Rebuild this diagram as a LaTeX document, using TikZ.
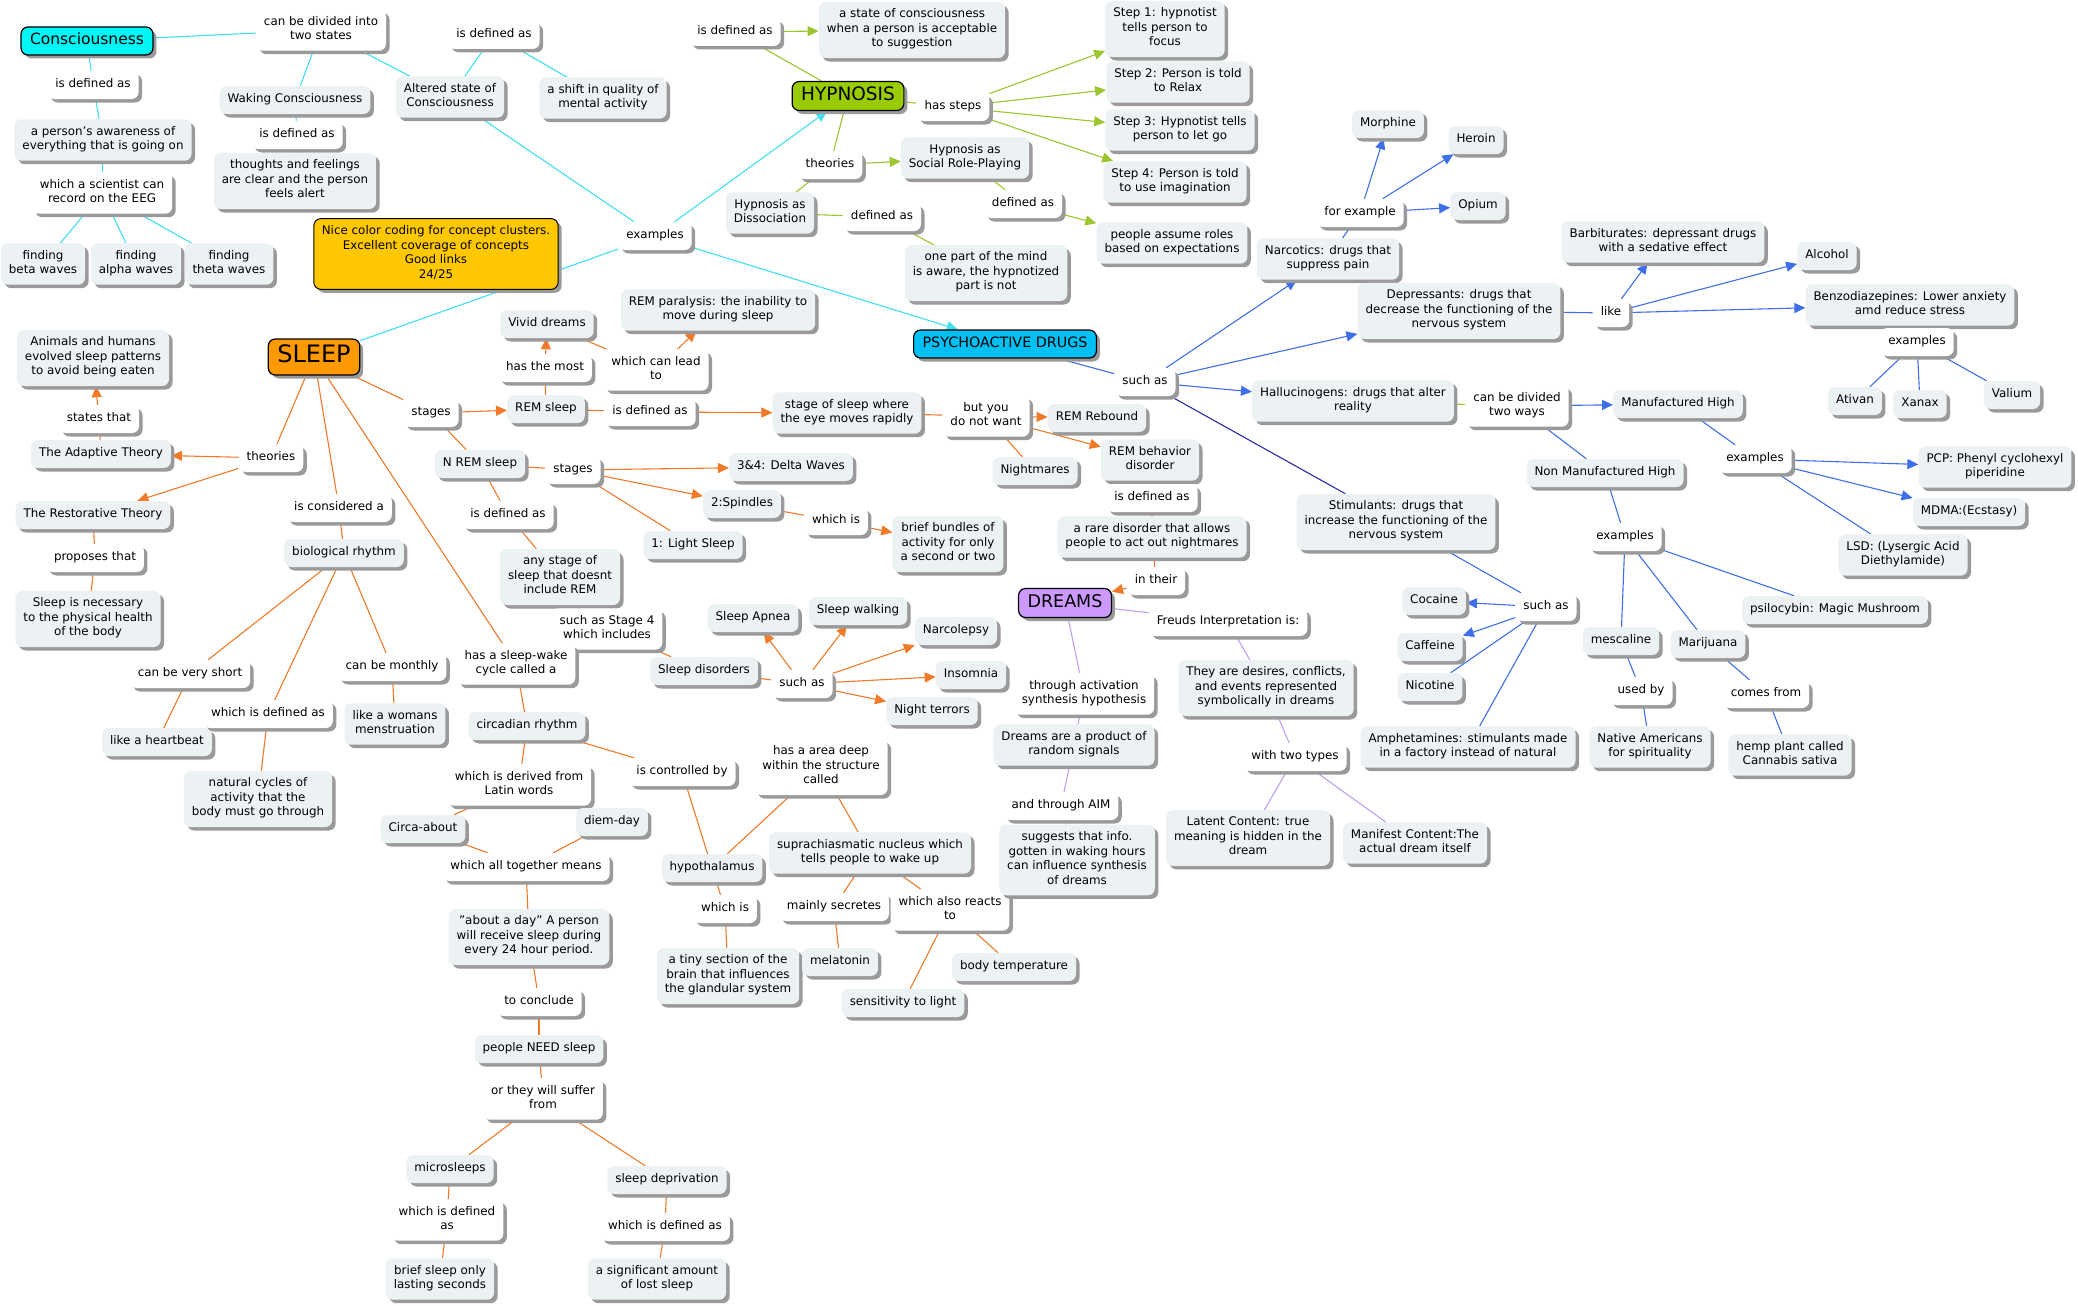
\documentclass[tikz,border=0pt]{standalone}
\usepackage{fontspec}
\setmainfont{DejaVu Sans}
\usetikzlibrary{arrows.meta,shadows}
\definecolor{cptfill}{HTML}{ECF2F4}
\definecolor{shadowc}{HTML}{9A9A9A}
\definecolor{consc}{HTML}{00F5F5}
\definecolor{hypc}{HTML}{99CC00}
\definecolor{sleepc}{HTML}{FF9900}
\definecolor{drugc}{HTML}{00BFF3}
\definecolor{dreamc}{HTML}{CC99FF}
\definecolor{notec}{HTML}{FFC800}
\definecolor{lcyan}{HTML}{40E0F0}
\definecolor{lgreen}{HTML}{9CC530}
\definecolor{lorange}{HTML}{F07A28}
\definecolor{lblue}{HTML}{3F6FE8}
\definecolor{ldblue}{HTML}{2B2BA8}
\definecolor{lpurple}{HTML}{BFA0EE}
\newcommand\fsN{\fontsize{11.9}{14.6}\selectfont}
\newcommand\fsC{\fontsize{15.5}{18}\selectfont}
\newcommand\fsH{\fontsize{18.5}{22}\selectfont}
\newcommand\fsS{\fontsize{24}{28}\selectfont}
\newcommand\fsP{\fontsize{14.3}{17}\selectfont}
\newcommand\fsD{\fontsize{17.5}{21}\selectfont}
\newcommand\sq{\symbol{"27}}
\newcommand\dq{\symbol{"22}}
\pgfdeclarelayer{back}
\pgfdeclarelayer{bg}
\pgfsetlayers{back,bg,main}
\tikzset{
  base/.style={rounded corners=7pt, align=center, font=\fsN, inner xsep=8pt, inner ysep=6.7pt,
    execute at begin node=\strut, execute at end node=\strut,
    drop shadow={shadow xshift=3.5pt,shadow yshift=-3.5pt,fill=shadowc,opacity=1}},
  cpt/.style={base, fill=cptfill},
  lnk/.style={base, fill=white},
  mainc/.style={base, draw=black, line width=1.2pt, inner xsep=9pt},
  notebox/.style={base, draw=black, line width=1pt, fill=notec},
  tipA/.style={-{Triangle[length=11pt,width=10pt]}},
  cy/.style={color=lcyan, draw, line width=1.1pt},
  gr/.style={color=lgreen, draw, line width=1.1pt},
  orl/.style={color=lorange, draw, line width=1.1pt},
  bl/.style={color=lblue, draw, line width=1.1pt},
  pu/.style={color=lpurple, draw, line width=1.1pt},
}
\begin{document}
\begin{tikzpicture}[x=1pt,y=-1pt]
\useasboundingbox (0,0) rectangle (2078,1306);
\begin{pgfonlayer}{back}
\fill[white] (0,0) rectangle (2078,1306);
\end{pgfonlayer}
% ---------- Consciousness
\node[mainc, fill=consc, font=\fsC, inner ysep=5pt] (cons) at (87,41) {Consciousness};
\node[lnk] (cdiv) at (321,30) {can be divided into\\two states};
\node[lnk] (cdef) at (93,85) {is defined as};
\node[cpt] (aware) at (103,140) {a person\sq s awareness of\\everything that is going on};
\node[lnk] (eeg) at (102,193) {which a scientist can\\record on the EEG};
\node[cpt] (beta) at (43,264) {finding\\beta waves};
\node[cpt] (alpha) at (136,264) {finding\\alpha waves};
\node[cpt] (theta) at (229,264) {finding\\theta waves};
\node[cpt] (waking) at (295,100) {Waking Consciousness};
\node[lnk] (wdef) at (297,135) {is defined as};
\node[cpt] (thoughts) at (295,181) {thoughts and feelings\\are clear and the person\\feels alert};
\node[cpt] (altered) at (450,97) {Altered state of\\Consciousness};
\node[lnk] (adef) at (494,35) {is defined as};
\node[cpt] (shift) at (603,98) {a shift in quality of\\mental activity};
\node[lnk] (ex) at (655,236) {examples};
\node[notebox] (note) at (436,254) {Nice color coding for concept clusters.\\Excellent coverage of concepts\\Good links\\24/25};
% ---------- Hypnosis
\node[mainc, fill=hypc, font=\fsH, inner ysep=3.5pt] (hyp) at (848,96) {HYPNOSIS};
\node[lnk] (hdef) at (735,32) {is defined as};
\node[cpt] (hstate) at (912,30) {a state of consciousness\\when a person is acceptable\\to suggestion};
\node[lnk] (hsteps) at (953,107) {has steps};
\node[cpt] (s1) at (1165,29) {Step 1: hypnotist\\tells person to\\focus};
\node[cpt] (s2) at (1178,82) {Step 2: Person is told\\to Relax};
\node[cpt] (s3) at (1180,130) {Step 3: Hypnotist tells\\person to let go};
\node[cpt] (s4) at (1175,182) {Step 4: Person is told\\to use imagination};
\node[lnk] (htheo) at (830,165) {theories};
\node[cpt] (social) at (965,158) {Hypnosis as\\Social Role-Playing};
\node[cpt] (dissoc) at (770,213) {Hypnosis as\\Dissociation};
\node[lnk] (ddef) at (882,217) {defined as};
\node[cpt] (onepart) at (986,273) {one part of the mind\\is aware, the hypnotized\\part is not};
\node[lnk] (sdef) at (1023,204) {defined as};
\node[cpt] (roles) at (1172,243) {people assume roles\\based on expectations};
% ---------- Sleep
\node[mainc, fill=sleepc, font=\fsS, inner ysep=4pt] (sleep) at (314,357) {SLEEP};
\node[cpt] (animals) at (93,358) {Animals and humans\\evolved sleep patterns\\to avoid being eaten};
\node[lnk] (states) at (99,419) {states that};
\node[cpt] (adaptive) at (101,454) {The Adaptive Theory};
\node[lnk] (stheo) at (271,458) {theories};
\node[cpt] (restor) at (93,515) {The Restorative Theory};
\node[lnk] (proposes) at (95,558) {proposes that};
\node[cpt] (necessary) at (88,619) {Sleep is necessary\\to the physical health\\of the body};
\node[lnk] (consid) at (339,508) {is considered a};
\node[cpt] (bio) at (344,553) {biological rhythm};
\node[lnk] (short) at (190,674) {can be very short};
\node[cpt] (heart) at (157,742) {like a heartbeat};
\node[lnk] (bdef) at (268,714) {which is defined as};
\node[cpt] (natural) at (258,799) {natural cycles of\\activity that the\\body must go through};
\node[lnk] (monthly) at (392,667) {can be monthly};
\node[cpt] (woman) at (395,724) {like a womans\\menstruation};
\node[lnk] (sst) at (431,413) {stages};
\node[cpt] (rem) at (546,409) {REM sleep};
\node[lnk] (hasmost) at (545,368) {has the most};
\node[cpt] (vivid) at (547,324) {Vivid dreams};
\node[lnk] (canlead) at (656,370) {which can lead\\to};
\node[cpt] (paralysis) at (718,310) {REM paralysis: the inability to\\move during sleep};
\node[lnk] (remdef) at (650,412) {is defined as};
\node[cpt] (eyes) at (847,413) {stage of sleep where\\the eye moves rapidly};
\node[lnk] (butyou) at (986,416) {but you\\do not want};
\node[cpt] (rebound) at (1097,418) {REM Rebound};
\node[cpt] (nightm) at (1035,471) {Nightmares};
\node[cpt] (rbd) at (1150,460) {REM behavior\\disorder};
\node[lnk] (rbddef) at (1152,498) {is defined as};
\node[cpt] (rare) at (1152,537) {a rare disorder that allows\\people to act out nightmares};
\node[lnk] (intheir) at (1156,581) {in their};
\node[cpt] (nrem) at (480,464) {N REM sleep};
\node[lnk] (nst) at (573,470) {stages};
\node[cpt] (delta) at (791,467) {3\&4: Delta Waves};
\node[cpt] (spind) at (742,504) {2:Spindles};
\node[lnk] (whichis) at (836,521) {which is};
\node[cpt] (bundles) at (948,544) {brief bundles of\\activity for only\\a second or two};
\node[cpt] (light) at (693,545) {1: Light Sleep};
\node[lnk] (ndef) at (508,515) {is defined as};
\node[cpt] (anystage) at (560,577) {any stage of\\sleep that doesnt\\include REM};
\node[lnk] (stage4) at (607,629) {such as Stage 4\\which includes};
\node[cpt] (disorders) at (704,671) {Sleep disorders};
\node[lnk] (sds) at (802,684) {such as};
\node[cpt] (apnea) at (753,618) {Sleep Apnea};
\node[cpt] (walking) at (858,611) {Sleep walking};
\node[cpt] (narco) at (956,631) {Narcolepsy};
\node[cpt] (insom) at (971,675) {Insomnia};
\node[cpt] (terrors) at (932,711) {Night terrors};
\node[lnk] (sw) at (516,664) {has a sleep-wake\\cycle called a};
\node[cpt] (circ) at (527,726) {circadian rhythm};
\node[lnk] (latin) at (519,785) {which is derived from\\Latin words};
\node[cpt] (circa) at (423,829) {Circa-about};
\node[cpt] (diem) at (612,822) {diem-day};
\node[lnk] (together) at (526,867) {which all together means};
\node[cpt] (aboutday) at (529,937) {\dq about a day\dq{} A person\\will receive sleep during\\every 24 hour period.};
\node[lnk] (conclude) at (539,1002) {to conclude};
\node[cpt] (need) at (539,1049) {people NEED sleep};
\node[lnk] (suffer) at (543,1099) {or they will suffer\\from};
\node[cpt] (micro) at (450,1169) {microsleeps};
\node[lnk] (mdef) at (447,1220) {which is defined\\as};
\node[cpt] (brief) at (440,1279) {brief sleep only\\lasting seconds};
\node[cpt] (depriv) at (667,1180) {sleep deprivation};
\node[lnk] (ddeftwo) at (665,1227) {which is defined as};
\node[cpt] (lost) at (657,1279) {a significant amount\\of lost sleep};
\node[lnk] (controlled) at (682,772) {is controlled by};
\node[cpt] (hypo) at (712,868) {hypothalamus};
\node[lnk] (area) at (821,767) {has a area deep\\within the structure\\called};
\node[cpt] (scn) at (870,853) {suprachiasmatic nucleus which\\tells people to wake up};
\node[lnk] (hwhich) at (725,909) {which is};
\node[cpt] (tiny) at (728,976) {a tiny section of the\\brain that influences\\the glandular system};
\node[lnk] (secretes) at (834,907) {mainly secretes};
\node[cpt] (melat) at (840,962) {melatonin};
\node[lnk] (reacts) at (950,910) {which also reacts\\to};
\node[cpt] (sens) at (903,1003) {sensitivity to light};
\node[cpt] (bodyt) at (1014,967) {body temperature};
% ---------- Dreams
\node[mainc, fill=dreamc, font=\fsD, inner ysep=4pt] (dreams) at (1065,603) {DREAMS};
\node[lnk] (freud) at (1228,622) {Freuds Interpretation is:};
\node[cpt] (desires) at (1266,688) {They are desires, conflicts,\\and events represented\\symbolically in dreams};
\node[lnk] (twotypes) at (1295,757) {with two types};
\node[cpt] (latent) at (1248,838) {Latent Content: true\\meaning is hidden in the\\dream};
\node[cpt] (manifest) at (1415,843) {Manifest Content:The\\actual dream itself};
\node[lnk] (activ) at (1084,694) {through activation\\synthesis hypothesis};
\node[cpt] (product) at (1074,745) {Dreams are a product of\\random signals};
\node[lnk] (aim) at (1061,806) {and through AIM};
\node[cpt] (suggests) at (1077,860) {suggests that info.\\gotten in waking hours\\can influence synthesis\\of dreams};
% ---------- Drugs
\node[mainc, fill=drugc, font=\fsP, inner ysep=5.5pt] (drugs) at (1005,344) {PSYCHOACTIVE DRUGS};
\node[lnk] (dsuch) at (1145,382) {such as};
\node[cpt] (narc) at (1328,259) {Narcotics: drugs that\\suppress pain};
\node[lnk] (forex) at (1360,213) {for example};
\node[cpt] (morph) at (1388,124) {Morphine};
\node[cpt] (heroin) at (1476,140) {Heroin};
\node[cpt] (opium) at (1478,206) {Opium};
\node[cpt] (depr) at (1459,311) {Depressants: drugs that\\decrease the functioning of the\\nervous system};
\node[lnk] (like) at (1611,313) {like};
\node[cpt] (barb) at (1663,242) {Barbiturates: depressant drugs\\with a sedative effect};
\node[cpt] (alcohol) at (1827,256) {Alcohol};
\node[cpt] (benzo) at (1910,305) {Benzodiazepines: Lower anxiety\\amd reduce stress};
\node[lnk] (bex) at (1917,342) {examples};
\node[cpt] (ativan) at (1855,401) {Ativan};
\node[cpt] (xanax) at (1920,404) {Xanax};
\node[cpt] (valium) at (2012,395) {Valium};
\node[cpt] (halluc) at (1353,401) {Hallucinogens: drugs that alter\\reality};
\node[lnk] (twoways) at (1517,406) {can be divided\\two ways};
\node[cpt] (manuf) at (1678,404) {Manufactured High};
\node[lnk] (mex) at (1755,459) {examples};
\node[cpt] (pcp) at (1995,467) {PCP: Phenyl cyclohexyl\\piperidine};
\node[cpt] (mdma) at (1969,512) {MDMA:(Ecstasy)};
\node[cpt] (lsd) at (1903,555) {LSD: (Lysergic Acid\\Diethylamide)};
\node[cpt] (nonman) at (1605,473) {Non Manufactured High};
\node[lnk] (nex) at (1625,537) {examples};
\node[cpt] (psilo) at (1835,610) {psilocybin: Magic Mushroom};
\node[cpt] (mesc) at (1621,641) {mescaline};
\node[cpt] (mari) at (1708,644) {Marijuana};
\node[lnk] (usedby) at (1641,691) {used by};
\node[lnk] (comes) at (1766,694) {comes from};
\node[cpt] (native) at (1650,747) {Native Americans\\for spirituality};
\node[cpt] (hemp) at (1790,755) {hemp plant called\\Cannabis sativa};
\node[cpt] (stim) at (1396,522) {Stimulants: drugs that\\increase the functioning of the\\nervous system};
\node[lnk] (stsuch) at (1546,607) {such as};
\node[cpt] (cocaine) at (1434,601) {Cocaine};
\node[cpt] (caff) at (1430,647) {Caffeine};
\node[cpt] (nicot) at (1430,687) {Nicotine};
\node[cpt] (amph) at (1468,747) {Amphetamines: stimulants made\\in a factory instead of natural};
% ================= connectors
\begin{pgfonlayer}{bg}
% cyan
\path[cy] (cons) edge (cdiv) (cdiv) edge (waking) (cdiv) edge (altered)
  (cons) edge (cdef) (cdef) edge (aware) (aware) edge (eeg)
  (eeg) edge (beta) (eeg) edge (alpha) (eeg) edge (theta)
  (waking) edge (wdef) (wdef) edge (thoughts)
  (altered) edge (adef) (adef) edge (shift)
  (altered) edge (ex) (ex) edge (sleep);
\path[cy,tipA] (ex) edge (hyp) (ex) edge (drugs);
% green
\path[gr] (hyp) edge (hdef) (hyp) edge (hsteps) (hyp) edge (htheo)
  (htheo) edge (dissoc) (dissoc) edge (ddef) (ddef) edge (onepart)
  (social) edge (sdef) (halluc) edge (twoways);
\path[gr,tipA] (hdef) edge (hstate) (hsteps) edge (s1) (hsteps) edge (s2)
  (hsteps) edge (s3) (hsteps) edge (s4) (htheo) edge (social) (sdef) edge (roles);
% orange
\path[orl] (sleep) edge (sst) (sst) edge (nrem) (rem) edge (hasmost)
  (vivid) edge (canlead) (rem) edge (remdef) (eyes) edge (butyou)
  (butyou) edge (nightm) (rbd) edge (rbddef) (rbddef) edge (rare) (rare) edge (intheir)
  (nrem) edge (nst) (nst) edge (light) (spind) edge (whichis)
  (nrem) edge (ndef) (ndef) edge (anystage) (anystage) edge (stage4) (stage4) edge (disorders)
  (disorders) edge (sds)
  (sleep) edge (stheo) (adaptive) edge (states) (restor) edge (proposes) (proposes) edge (necessary)
  (sleep) edge (consid) (consid) edge (bio) (bio) edge (short) (short) edge (heart)
  (bio) edge (bdef) (bdef) edge (natural) (bio) edge (monthly) (monthly) edge (woman)
  (sleep) edge (sw) (sw) edge (circ) (circ) edge (latin) (latin) edge (circa) (latin) edge (diem)
  (circa) edge (together) (diem) edge (together) (together) edge (aboutday)
  (aboutday) edge (conclude) (conclude) edge (need) (need) edge (suffer)
  (suffer) edge (micro) (suffer) edge (depriv) (micro) edge (mdef) (mdef) edge (brief)
  (depriv) edge (ddeftwo) (ddeftwo) edge (lost)
  (circ) edge (controlled) (controlled) edge (hypo) (hypo) edge (area) (area) edge (scn)
  (hypo) edge (hwhich) (hwhich) edge (tiny) (scn) edge (secretes) (secretes) edge (melat)
  (scn) edge (reacts) (reacts) edge (sens) (reacts) edge (bodyt);
\path[orl,tipA] (sst) edge (rem) (hasmost) edge (vivid) (canlead) edge (paralysis)
  (remdef) edge (eyes) (butyou) edge (rebound) (butyou) edge (rbd) (intheir) edge (dreams)
  (nst) edge (delta) (nst) edge (spind) (whichis) edge (bundles)
  (sds) edge (apnea) (sds) edge (walking) (sds) edge (narco) (sds) edge (insom) (sds) edge (terrors)
  (stheo) edge (adaptive) (stheo) edge (restor) (states) edge (animals);
% purple
\path[pu] (dreams) edge (freud) (freud) edge (desires) (desires) edge (twotypes)
  (twotypes) edge (latent) (twotypes) edge (manifest)
  (dreams) edge (activ) (activ) edge (product) (product) edge (aim) (aim) edge (suggests);
% blue
\path[bl] (drugs) edge (dsuch) (narc) edge (forex) (depr) edge (like)
  (benzo) edge (bex) (bex) edge (ativan) (bex) edge (xanax) (bex) edge (valium)
  (twoways) edge (nonman) (manuf) edge (mex) (mex) edge (lsd)
  (nonman) edge (nex) (nex) edge (mesc) (nex) edge (mari) (nex) edge (psilo)
  (mesc) edge (usedby) (usedby) edge (native) (mari) edge (comes) (comes) edge (hemp)
  (stim) edge (stsuch) (stsuch) edge (nicot) (stsuch) edge (amph);
\path[bl,tipA] (dsuch) edge (narc) (dsuch) edge (depr) (dsuch) edge (halluc)
  (forex) edge (morph) (forex) edge (heroin) (forex) edge (opium)
  (like) edge (barb) (like) edge (alcohol) (like) edge (benzo)
  (twoways) edge (manuf) (mex) edge (pcp) (mex) edge (mdma)
  (stsuch) edge (cocaine) (stsuch) edge (caff);
\draw[ldblue, line width=1.1pt] (dsuch) -- (stim);
\end{pgfonlayer}
\end{tikzpicture}
\end{document}
